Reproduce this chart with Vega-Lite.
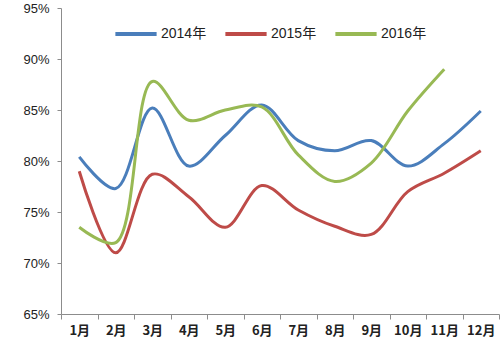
{
  "$schema": "https://vega.github.io/schema/vega-lite/v6.json",
  "width": 438,
  "height": 306,
  "autosize": {"type": "none"},
  "padding": {"left": 61, "top": 8, "right": 5, "bottom": 37},
  "background": "white",
  "config": {"view": {"stroke": null}},
  "data": {
    "values": [
      {"month": "1月", "year": "2014年", "rate": 80.4},
      {"month": "2月", "year": "2014年", "rate": 77.3},
      {"month": "3月", "year": "2014年", "rate": 85.2},
      {"month": "4月", "year": "2014年", "rate": 79.5},
      {"month": "5月", "year": "2014年", "rate": 82.5},
      {"month": "6月", "year": "2014年", "rate": 85.5},
      {"month": "7月", "year": "2014年", "rate": 82.0},
      {"month": "8月", "year": "2014年", "rate": 81.0},
      {"month": "9月", "year": "2014年", "rate": 82.0},
      {"month": "10月", "year": "2014年", "rate": 79.5},
      {"month": "11月", "year": "2014年", "rate": 81.7},
      {"month": "12月", "year": "2014年", "rate": 84.9},
      {"month": "1月", "year": "2015年", "rate": 79.0},
      {"month": "2月", "year": "2015年", "rate": 71.0},
      {"month": "3月", "year": "2015年", "rate": 78.7},
      {"month": "4月", "year": "2015年", "rate": 76.5},
      {"month": "5月", "year": "2015年", "rate": 73.5},
      {"month": "6月", "year": "2015年", "rate": 77.6},
      {"month": "7月", "year": "2015年", "rate": 75.2},
      {"month": "8月", "year": "2015年", "rate": 73.6},
      {"month": "9月", "year": "2015年", "rate": 72.8},
      {"month": "10月", "year": "2015年", "rate": 77.0},
      {"month": "11月", "year": "2015年", "rate": 78.8},
      {"month": "12月", "year": "2015年", "rate": 81.0},
      {"month": "1月", "year": "2016年", "rate": 73.5},
      {"month": "2月", "year": "2016年", "rate": 72.0},
      {"month": "3月", "year": "2016年", "rate": 87.8},
      {"month": "4月", "year": "2016年", "rate": 84.0},
      {"month": "5月", "year": "2016年", "rate": 85.0},
      {"month": "6月", "year": "2016年", "rate": 85.3},
      {"month": "7月", "year": "2016年", "rate": 80.6},
      {"month": "8月", "year": "2016年", "rate": 78.0},
      {"month": "9月", "year": "2016年", "rate": 79.8},
      {"month": "10月", "year": "2016年", "rate": 84.9},
      {"month": "11月", "year": "2016年", "rate": 89.0}
    ]
  },
  "mark": {"type": "line", "interpolate": "catmull-rom", "strokeWidth": 3},
  "encoding": {
    "x": {
      "field": "month",
      "type": "ordinal",
      "sort": ["1月","2月","3月","4月","5月","6月","7月","8月","9月","10月","11月","12月"],
      "scale": {"type": "band", "paddingInner": 0, "paddingOuter": 0},
      "bandPosition": 0.5,
      "axis": {
        "title": null,
        "labelAngle": 0,
        "tickBand": "extent",
        "domainColor": "#8c8c8c",
        "tickColor": "#8c8c8c",
        "tickSize": 5,
        "labelFont": "Noto Sans CJK SC",
        "labelFontSize": 13,
        "labelFontWeight": "bold",
        "labelColor": "#222222",
        "labelPadding": 5
      }
    },
    "y": {
      "field": "rate",
      "type": "quantitative",
      "scale": {"domain": [65, 95], "nice": false, "zero": false},
      "axis": {
        "title": null,
        "values": [65, 70, 75, 80, 85, 90, 95],
        "labelExpr": "datum.value + '%'",
        "grid": false,
        "domainColor": "#8c8c8c",
        "tickColor": "#8c8c8c",
        "tickSize": 4,
        "labelFont": "Liberation Sans",
        "labelFontSize": 13,
        "labelColor": "#222222",
        "labelPadding": 8
      }
    },
    "color": {
      "field": "year",
      "type": "nominal",
      "scale": {"domain": ["2014年", "2015年", "2016年"], "range": ["#4A7EBB", "#BE4B48", "#98B954"]},
      "legend": {
        "title": null,
        "orient": "none",
        "direction": "horizontal",
        "legendX": 52,
        "legendY": 3,
        "symbolType": "stroke",
        "symbolSize": 1700,
        "symbolStrokeWidth": 4,
        "labelFont": "Liberation Sans, Noto Sans CJK SC",
        "labelFontSize": 14,
        "labelFontWeight": "normal",
        "labelColor": "#222222",
        "labelOffset": 2,
        "columnPadding": 10
      }
    }
  }
}
